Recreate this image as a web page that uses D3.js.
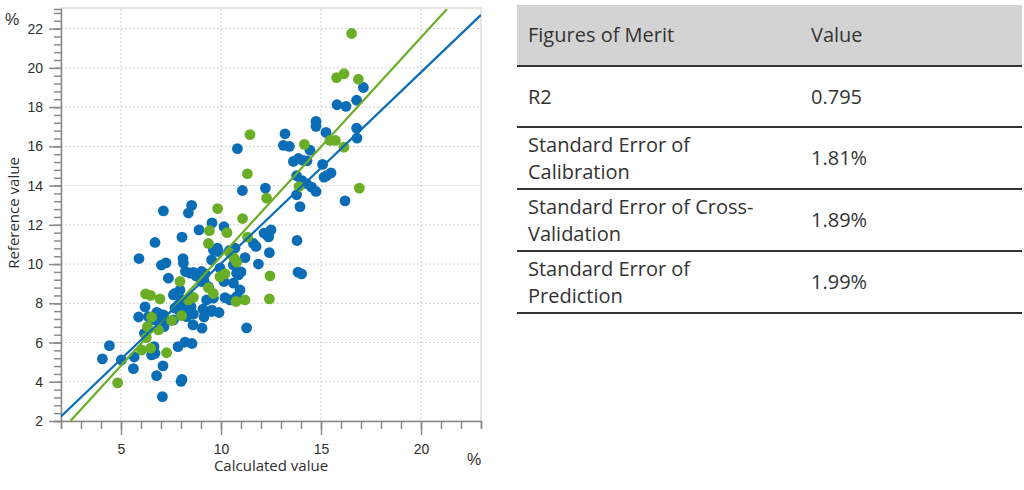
<!DOCTYPE html>
<html>
<head>
<meta charset="utf-8">
<script src="https://cdn.jsdelivr.net/npm/d3@7"></script>
<style>
  html, body { margin: 0; padding: 0; background: #fff; }
  svg { display: block; }
</style>
</head>
<body>
<svg id="chart" width="1024" height="490"></svg>
<script>
// ---------------- DATA ----------------
const calibrationPoints = [
  [4.07,5.17],[4.42,5.84],[5.02,5.11],[5.62,4.67],[5.66,5.26],[5.9,10.28],[5.88,7.3],[6.2,7.82],[6.17,6.47],[6.7,11.1],
  [6.78,4.31],[7.1,4.81],[7.07,3.24],[7.02,9.95],[7.25,10.06],[7.37,9.28],[8.05,11.37],[8.1,10.28],[8.12,10.05],[7.95,8.68],
  [8.03,8.2],[7.85,5.79],[8.05,4.12],[8.0,4.02],[8.2,6.02],[8.55,5.95],[8.9,11.74],[8.22,9.62],[8.45,9.54],[8.75,9.4],
  [9.03,9.62],[8.5,7.83],[8.62,7.45],[8.6,6.9],[9.05,6.73],[9.1,7.7],[9.15,7.3],[9.2,9.5],[9.55,12.1],[9.53,10.21],
  [9.55,7.65],[9.9,7.53],[9.82,10.81],[10.15,11.9],[10.15,9.11],[10.2,8.29],[9.95,9.79],[10.62,9.03],[11.2,10.33],[11.28,6.75],
  [9.62,10.72],[9.87,10.64],[10.42,10.69],[10.62,9.96],[10.87,9.45],[10.95,8.68],[10.45,8.17],[9.62,8.26],[9.28,8.17],[8.95,9.28],
  [9.15,9.14],[9.37,8.85],[7.62,8.43],[7.87,7.92],[8.12,7.66],[8.28,7.32],[7.62,7.15],[7.12,7.41],[7.23,7.15],[7.15,6.81],
  [6.78,7.53],[6.67,7.15],[6.53,5.37],[6.65,5.79],[6.37,7.32],[6.87,7.49],[7.12,7.24],[7.7,7.75],[7.95,7.58],[8.2,7.75],
  [8.45,7.49],[9.53,7.58],[6.7,5.45],[7.12,12.71],[8.53,12.99],[8.37,12.6],[8.62,9.58],[9.03,9.11],[7.7,8.51],[10.78,9.53],
  [10.78,8.34],[10.7,10.81],
  [10.82,15.88],[11.07,13.75],[13.2,16.64],[13.12,16.05],[13.42,16.0],[14.45,15.8],[14.75,17.27],[14.75,17.02],[15.25,16.71],[15.8,18.12],
  [16.25,18.04],[16.78,18.35],[17.12,19.0],[16.78,16.93],[16.8,16.42],[13.62,15.23],[13.87,15.38],[14.1,15.28],[14.3,15.26],[15.08,15.08],
  [13.78,14.5],[14.05,14.25],[14.28,14.1],[14.53,13.92],[14.75,13.7],[15.28,14.5],[15.5,14.65],[15.15,14.43],[12.22,13.87],[13.78,13.53],
  [13.95,12.93],[16.2,13.22],[12.15,11.58],[12.3,11.48],[12.5,11.74],[12.38,11.38],[13.8,11.2],[11.62,11.05],[11.75,10.9],[12.42,10.58],
  [11.87,10.0],[13.85,9.59],[14.03,9.5],[11.0,9.6]
];
const validationPoints = [
  [4.83,3.94],[6.23,8.48],[6.48,8.4],[6.95,8.22],[6.53,7.29],[6.32,6.81],[6.87,6.64],[6.03,5.62],[6.27,6.25],[6.48,5.71],
  [7.28,5.48],[7.53,7.12],[7.95,9.11],[8.03,7.37],[8.37,8.17],[8.62,8.3],[9.42,11.7],[9.37,11.05],[10.3,11.6],[9.37,8.8],
  [9.62,8.5],[9.95,9.36],[10.2,9.5],[10.45,10.55],[10.65,10.3],[10.78,10.1],[10.75,8.09],[11.2,8.17],[11.33,11.37],[11.45,16.6],
  [11.32,14.6],[9.83,12.83],[11.08,12.32],[16.53,21.75],[15.78,19.5],[16.15,19.7],[16.87,19.42],[15.45,16.3],[15.72,16.3],[16.15,15.96],
  [14.17,16.1],[13.9,13.95],[12.28,13.36],[16.92,13.87],[12.45,9.4],[12.42,8.22]
];
// regression lines as end points [x, y]
const calibrationLine = [[2.0, 2.23], [23.0, 22.7]];
const validationLine = [[2.47, 2.0], [21.3, 23.0]];

const xMajorTicks = [5, 10, 15, 20];
const yMajorTicks = [2, 4, 6, 8, 10, 12, 14, 16, 18, 20, 22];
const xDomain = [2, 23];
const yDomain = [2, 23];

const tableHeader = ["Figures of Merit", "Value"];
const tableMetrics = [["R2"], ["Standard Error of", "Calibration"], ["Standard Error of Cross-", "Validation"], ["Standard Error of", "Prediction"]];
const tableValues = ["0.795", "1.81%", "1.89%", "1.99%"];

// ---------------- CHART ----------------
const svg = d3.select("#chart");
const blue = "#0a6db5", green = "#6aae27";
const plot = {left: 61, right: 481, top: 9, bottom: 421};

const x = d3.scaleLinear().domain(xDomain).range([plot.left, plot.right]);
const y = d3.scaleLinear().domain(yDomain).range([plot.bottom, plot.top]);

// frame
svg.append("rect").attr("x", plot.left).attr("y", plot.top - 1)
  .attr("width", plot.right - plot.left).attr("height", plot.bottom - plot.top + 1)
  .attr("fill", "none").attr("stroke", "#d4d4d4").attr("stroke-width", 1.2);

// grid
const grid = svg.append("g").attr("stroke", "#cfcfcf").attr("stroke-width", 1).attr("stroke-dasharray", "2,2");
grid.selectAll("line.v").data(xMajorTicks).join("line")
  .attr("x1", d => x(d)).attr("x2", d => x(d)).attr("y1", plot.top).attr("y2", plot.bottom);
grid.selectAll("line.h").data(yMajorTicks.filter(d => d > yDomain[0])).join("line")
  .attr("y1", d => y(d)).attr("y2", d => y(d)).attr("x1", plot.left).attr("x2", plot.right);

// axes
const tickColor = "#8a8a8a";
const tickFont = "14px 'Liberation Sans', Arial, sans-serif";
const xMinor = d3.range(2, 23.01, 1);
const yMinor = d3.range(2, 23.01, 0.4);
const xAxisG = svg.append("g").attr("transform", `translate(0,${plot.bottom})`);
xAxisG.call(d3.axisBottom(x).tickValues(xMinor).tickSize(8).tickFormat(""));
xAxisG.selectAll("path,line").attr("stroke", tickColor).attr("stroke-width", 1.5);
const xMajorG = svg.append("g").attr("transform", `translate(0,${plot.bottom})`);
xMajorG.call(d3.axisBottom(x).tickValues(xMajorTicks).tickSize(14).tickPadding(9).tickFormat(d3.format("d")));
xMajorG.select("path").remove();
xMajorG.selectAll("line").attr("stroke", tickColor).attr("stroke-width", 1.5);
xMajorG.selectAll("text").attr("fill", "#2e2e2e").style("font", tickFont);

const yAxisG = svg.append("g").attr("transform", `translate(${plot.left},0)`);
yAxisG.call(d3.axisLeft(y).tickValues(yMinor).tickSize(7).tickFormat(""));
yAxisG.selectAll("path,line").attr("stroke", tickColor).attr("stroke-width", 1.5);
const yMajorG = svg.append("g").attr("transform", `translate(${plot.left},0)`);
yMajorG.call(d3.axisLeft(y).tickValues(yMajorTicks).tickSize(12).tickPadding(6).tickFormat(d3.format("d")));
yMajorG.select("path").remove();
yMajorG.selectAll("line").attr("stroke", tickColor).attr("stroke-width", 1.5);
yMajorG.selectAll("text").attr("fill", "#2e2e2e").style("font", tickFont);

// axis titles
const titleFont = "15px 'Open Sans', 'Noto Sans', sans-serif";
svg.append("text").attr("x", (plot.left + plot.right) / 2).attr("y", 471)
  .attr("text-anchor", "middle").attr("fill", "#2e2e2e").style("font", titleFont).text("Calculated value");
svg.append("text").attr("transform", `translate(19,${(plot.top + plot.bottom) / 2 - 2}) rotate(-90)`)
  .attr("text-anchor", "middle").attr("fill", "#2e2e2e").style("font", titleFont).text("Reference value");
svg.append("text").attr("x", 12).attr("y", 25).attr("text-anchor", "middle")
  .attr("fill", "#2e2e2e").style("font", "16px 'Liberation Sans', Arial, sans-serif").text("%");
svg.append("text").attr("x", 474).attr("y", 465).attr("text-anchor", "middle")
  .attr("fill", "#2e2e2e").style("font", "16px 'Liberation Sans', Arial, sans-serif").text("%");

// clip
svg.append("clipPath").attr("id", "clip").append("rect")
  .attr("x", plot.left).attr("y", plot.top).attr("width", plot.right - plot.left).attr("height", plot.bottom - plot.top);
const body = svg.append("g").attr("clip-path", "url(#clip)");

// points
body.append("g").selectAll("circle").data(calibrationPoints).join("circle")
  .attr("cx", d => x(d[0])).attr("cy", d => y(d[1])).attr("r", 5.4).attr("fill", blue);
body.append("g").selectAll("circle").data(validationPoints).join("circle")
  .attr("cx", d => x(d[0])).attr("cy", d => y(d[1])).attr("r", 5.4).attr("fill", green);

// lines
const lineGen = d3.line().x(d => x(d[0])).y(d => y(d[1]));
body.append("path").datum(validationLine).attr("d", lineGen).attr("stroke", green).attr("stroke-width", 2.2).attr("fill", "none");
body.append("path").datum(calibrationLine).attr("d", lineGen).attr("stroke", blue).attr("stroke-width", 2.2).attr("fill", "none");

// ---------------- TABLE ----------------
const tbl = {left: 517, right: 1022, top: 5, headerBottom: 66};
const rowBottoms = [127, 189, 251, 313];
const col2 = 811, col1 = 528;
const tFont = "20px 'Open Sans', 'Noto Sans', sans-serif";
const tColor = "#333";
const tg = svg.append("g");
tg.append("rect").attr("x", tbl.left).attr("y", tbl.top).attr("width", tbl.right - tbl.left)
  .attr("height", tbl.headerBottom - tbl.top).attr("fill", "#d3d3d3");
tg.append("text").attr("x", col1).attr("y", 42).attr("fill", tColor).style("font", tFont).text(tableHeader[0]);
tg.append("text").attr("x", col2).attr("y", 42).attr("fill", tColor).style("font", tFont).text(tableHeader[1]);
const allBottoms = [tbl.headerBottom].concat(rowBottoms);
tg.selectAll("line.rule").data(allBottoms).join("line")
  .attr("x1", tbl.left).attr("x2", tbl.right).attr("y1", d => d).attr("y2", d => d)
  .attr("stroke", "#333").attr("stroke-width", 2.2);
tableMetrics.forEach((lines, i) => {
  const top = allBottoms[i], bot = allBottoms[i + 1];
  const mid = (top + bot) / 2;
  const lh = 27;
  const start = mid - (lines.length - 1) * lh / 2 + 7;
  lines.forEach((t, j) => {
    tg.append("text").attr("x", col1).attr("y", start + j * lh).attr("fill", tColor).style("font", tFont).text(t);
  });
  tg.append("text").attr("x", col2).attr("y", mid + 7).attr("fill", tColor).style("font", tFont).text(tableValues[i]);
});
</script>
</body>
</html>
